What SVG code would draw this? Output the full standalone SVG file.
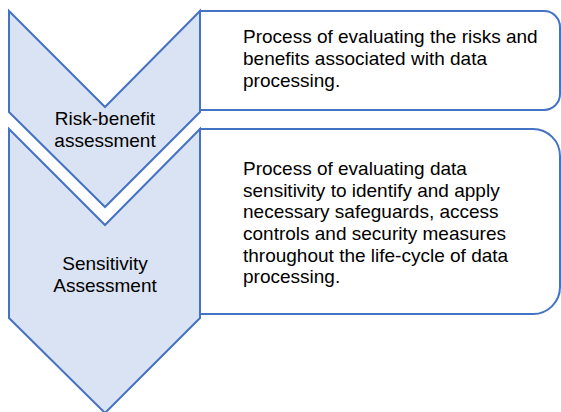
<svg xmlns="http://www.w3.org/2000/svg" width="561" height="412" viewBox="0 0 561 412">
<style>
.chev{fill:#DAE3F3;stroke:#4472C4;stroke-width:2;stroke-linejoin:miter}
.box{fill:#FFFFFF;stroke:#4472C4;stroke-width:2}
text{font-family:"Liberation Sans",Arial,sans-serif;font-size:19px;fill:#000}
.c{text-anchor:middle}
</style>
<rect width="561" height="412" fill="#FFFFFF"/>
<g id="box1">
<path class="box" d="M200,11 H544 A16,16 0 0 1 560,27 V94 A16,16 0 0 1 544,110 H200 Z"/>
<text x="243" y="43.3">Process of evaluating the risks and</text>
<text x="243" y="65">benefits associated with data</text>
<text x="243" y="86.7">processing.</text>
</g>
<g id="box2">
<path class="box" d="M200,129 H533 A27,27 0 0 1 560,156 V287 A27,27 0 0 1 533,314 H200 Z"/>
<text x="243" y="175">Process of evaluating data</text>
<text x="243" y="196.7">sensitivity to identify and apply</text>
<text x="243" y="218.3">necessary safeguards, access</text>
<text x="243" y="240">controls and security measures</text>
<text x="243" y="261.7">throughout the life-cycle of data</text>
<text x="243" y="283.3">processing.</text>
</g>
<g id="chevron1">
<polygon class="chev" points="9,11 105,107 200,11 200,112 105,207 9,112"/>
<text class="c" x="105" y="125">Risk-benefit</text>
<text class="c" x="105" y="146.7">assessment</text>
</g>
<g id="chevron2">
<polygon class="chev" points="9,129 105,225 200,129 200,318 105,413 9,318"/>
<text class="c" x="105" y="270">Sensitivity</text>
<text class="c" x="105" y="291.7">Assessment</text>
</g>
<g id="connectors"></g>
</svg>
